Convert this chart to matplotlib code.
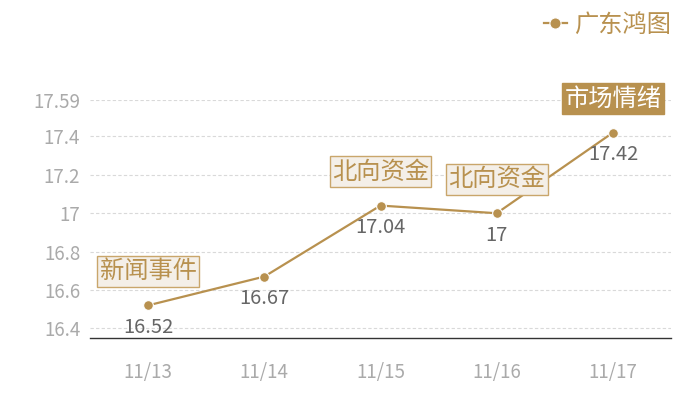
import matplotlib
matplotlib.use("Agg")
import matplotlib.pyplot as plt

plt.rcParams['font.family'] = ['Noto Sans CJK SC', 'DejaVu Sans']

dates = ["11/13", "11/14", "11/15", "11/16", "11/17"]
values = [16.52, 16.67, 17.04, 17.00, 17.42]
value_labels = ["16.52", "16.67", "17.04", "17", "17.42"]
yticks = [16.4, 16.6, 16.8, 17.0, 17.2, 17.4, 17.59]
ytick_labels = ["16.4", "16.6", "16.8", "17", "17.2", "17.4", "17.59"]
events = {0: "新闻事件", 2: "北向资金", 3: "北向资金", 4: "市场情绪"}
highlight = 4
series_name = "广东鸿图"

gold = "#b8914f"

fig = plt.figure(figsize=(7, 4), dpi=100)
ax = fig.add_axes([90/700, 62/400, 581/700, 238/400])

x = list(range(len(dates)))
ax.plot(x, values, color=gold, lw=1.6, marker='o', markersize=7,
        markeredgecolor='white', markeredgewidth=0.8, label=series_name, zorder=3)

ax.set_xlim(-0.5, len(dates) - 0.5)
ax.set_ylim(16.35, 17.59)
ax.set_xticks(x)
ax.set_xticklabels(dates, color="#aaaaaa", fontsize=13.5)
ax.set_yticks(yticks)
ax.set_yticklabels(ytick_labels, color="#aaaaaa", fontsize=13.5)
ax.tick_params(axis='both', length=0)
ax.tick_params(axis='x', pad=17)
ax.tick_params(axis='y', pad=7)
ax.grid(axis='y', color="#d9d9d9", linestyle=(0, (3, 2)), lw=0.8)
ax.set_axisbelow(True)
for s in ['top', 'right', 'left']:
    ax.spines[s].set_visible(False)
ax.spines['bottom'].set_color('#333333')
ax.spines['bottom'].set_linewidth(1.0)

for i, (v, lab) in enumerate(zip(values, value_labels)):
    ax.annotate(lab, (i, v), xytext=(0, -22), textcoords='offset pixels',
                ha='center', va='center', fontsize=14.5, color="#666666", zorder=4)

for i, txt in events.items():
    if i == highlight:
        bbox = dict(boxstyle='square,pad=0.1', fc=gold, ec=gold, lw=1)
        col = 'white'
    else:
        bbox = dict(boxstyle='square,pad=0.1', fc="#f4efe8", ec="#c9a66b", lw=1)
        col = gold
    ax.annotate(txt, (i, values[i]), xytext=(0, 34), textcoords='offset pixels',
                ha='center', va='center', fontsize=17.5, color=col, bbox=bbox, zorder=5)

leg = fig.legend(loc='upper right', bbox_to_anchor=(0.99, 1.025), frameon=False,
                 fontsize=17.5, handlelength=0.95, handletextpad=0.3, markerscale=1.15)
for t in leg.get_texts():
    t.set_color(gold)

fig.savefig("out.png", dpi=100)
